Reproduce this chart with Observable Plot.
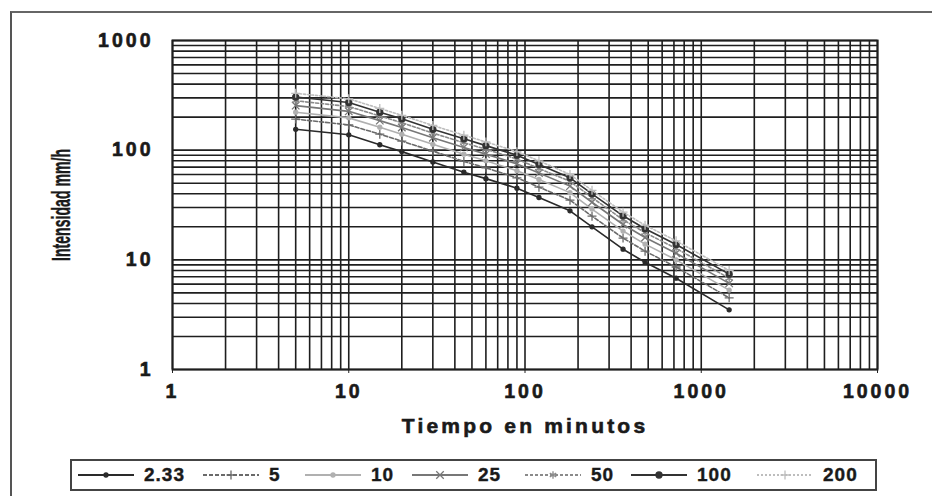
<!DOCTYPE html>
<html>
<head>
<meta charset="utf-8">
<script src="https://cdn.jsdelivr.net/npm/d3@7"></script>
<script src="https://cdn.jsdelivr.net/npm/@observablehq/plot@0.6"></script>
<style>
  html, body { margin: 0; padding: 0; background: #fff; }
  #wrap { position: relative; width: 932px; height: 496px; overflow: hidden; }
  #frame { position: absolute; left: 10px; top: 11px; width: 1000px; height: 600px;
           border-left: 2px solid #555; border-top: 2px solid #666; pointer-events: none; }
  #chart svg text { font-family: "Liberation Sans", Arial, sans-serif; font-weight: bold;
                    font-size: 19.5px; letter-spacing: 3px; fill: #1a1a1a;
                    stroke: #1a1a1a; stroke-width: 0.6px; paint-order: stroke; }
  #legend { position: absolute; left: 70px; top: 459px; width: 807px; height: 32px; box-sizing: border-box;
            border: 2px solid #444; font-family: "Liberation Sans", Arial, sans-serif; font-weight: bold;
            font-size: 19px; letter-spacing: 1px; color: #1a1a1a; -webkit-text-stroke: 0.4px #1a1a1a; }
  #legend .item { position: absolute; top: 0; height: 28px; display: flex; align-items: center; }
  #legend .item span { margin-left: 9px; }
</style>
</head>
<body>
<div id="wrap">
  <div id="chart"></div>
  <div id="legend"></div>
  <div id="frame"></div>
</div>
<script>
// ---- data ----
const durations = [5, 10, 15, 20, 30, 45, 60, 90, 120, 180, 240, 360, 480, 720, 1440];
const seriesNames = ["2.33", "5", "10", "25", "50", "100", "200"];
const s233 = [155, 138, 112, 97, 78, 63, 55, 45, 37, 28, 20, 12.5, 9.5, 6.8, 3.5];
const s5   = [192, 170, 140, 121, 98, 79, 69, 56, 46, 35, 25, 15.8, 12, 8.6, 4.5];
const s10  = [222, 197, 162, 140, 113, 92, 80, 65, 54, 41, 29, 18.3, 13.9, 10, 5.3];
const s25  = [255, 226, 186, 161, 130, 106, 92, 75, 62, 47, 33.5, 21, 16, 11.5, 6.1];
const s50  = [282, 250, 205, 178, 143, 117, 102, 83, 68, 52, 37, 23.2, 17.7, 12.7, 6.8];
const s100 = [305, 272, 222, 193, 155, 127, 110, 90, 74, 56, 40, 25.2, 19.2, 13.8, 7.4];
const s200 = [330, 294, 240, 208, 168, 137, 119, 97, 80, 60, 43, 27.2, 20.7, 14.9, 8.0];
const seriesValues = [s233, s5, s10, s25, s50, s100, s200];
const xTicks = [1, 10, 100, 1000, 10000];
const yTicks = [1, 10, 100, 1000];

// ---- styles (not data) ----
const styles = {
  "2.33": {stroke: "#2a2a2a", dash: null, symbol: "circle", r: 2, fill: "#2a2a2a", legendLeft: 5},
  "5":    {stroke: "#6a6a6a", dash: "4,2", symbol: "plus", r: 3, fill: "none", legendLeft: 130},
  "10":   {stroke: "#b0b0b0", dash: null, symbol: "circle", r: 2, fill: "#b0b0b0", legendLeft: 232},
  "25":   {stroke: "#777777", dash: null, symbol: "times", r: 3.5, fill: "none", legendLeft: 339},
  "50":   {stroke: "#8a8a8a", dash: "3,2", symbol: "asterisk", r: 3.5, fill: "none", legendLeft: 452},
  "100":  {stroke: "#333333", dash: null, symbol: "circle", r: 3, fill: "#333333", legendLeft: 558},
  "200":  {stroke: "#bdbdbd", dash: "2,2", symbol: "plus", r: 3, fill: "none", legendLeft: 684}
};

const rows = seriesNames.flatMap((name, i) =>
  durations.map((t, j) => ({series: name, t, v: seriesValues[i][j]})));

const gridX = d3.range(0, 4).flatMap(k => d3.range(1, 10).map(m => m * 10 ** k)).concat([10000]);
const gridY = d3.range(0, 3).flatMap(k => d3.range(1, 10).map(m => m * 10 ** k)).concat([1000]);

const marks = [
  Plot.ruleX(gridX, {stroke: "#1e1e1e", strokeWidth: 1.6}),
  Plot.ruleY(gridY, {stroke: "#1e1e1e", strokeWidth: 1.6}),
  Plot.frame({stroke: "#1e1e1e", strokeWidth: 2})
];
for (const name of seriesNames) {
  const st = styles[name];
  const data = rows.filter(d => d.series === name);
  marks.push(Plot.line(data, {x: "t", y: "v", stroke: st.stroke, strokeWidth: 1.6, strokeDasharray: st.dash}));
  marks.push(Plot.dot(data, {x: "t", y: "v", symbol: st.symbol, r: st.r, stroke: st.stroke,
                              fill: st.fill, strokeWidth: 1.3}));
}

const chart = Plot.plot({
  width: 932,
  height: 452,
  marginLeft: 172,
  marginRight: 55,
  marginTop: 40,
  marginBottom: 83,
  style: {background: "transparent", color: "#222"},
  x: {type: "log", domain: [1, 10000], ticks: xTicks, tickFormat: d3.format("d"),
      label: "Tiempo en minutos", labelAnchor: "center", labelOffset: 63, tickSize: 4, tickPadding: 11, labelArrow: "none"},
  y: {type: "log", domain: [1, 1000], ticks: yTicks, tickFormat: d3.format("d"),
      label: "Intensidad mm/h", labelAnchor: "center", labelOffset: 120, tickSize: 0, tickPadding: 19, labelArrow: "none"},
  marks
});
document.getElementById("chart").appendChild(chart);

// style axis labels
chart.querySelectorAll("g[aria-label='x-axis label'] text").forEach(e => {
  e.style.fontSize = "21px";
  e.style.letterSpacing = "3.2px";
});
chart.querySelectorAll("g[aria-label='y-axis label'] text").forEach(e => {
  e.style.fontSize = "25px";
  e.style.letterSpacing = "0px";
  e.style.strokeWidth = "0.4px";
  e.setAttribute("textLength", "112");
  e.setAttribute("lengthAdjust", "spacingAndGlyphs");
});

// legend
const legend = document.getElementById("legend");
for (const name of seriesNames) {
  const st = styles[name];
  const item = document.createElement("div");
  item.className = "item";
  item.style.left = st.legendLeft + "px";
  const sw = d3.create("svg").attr("width", 58).attr("height", 14);
  sw.append("line").attr("x1", 1).attr("x2", 57).attr("y1", 7).attr("y2", 7)
    .attr("stroke", st.stroke).attr("stroke-width", 1.8).attr("stroke-dasharray", st.dash);
  const sym = d3.symbol().type({
    circle: d3.symbolCircle, plus: d3.symbolPlus, times: d3.symbolTimes, asterisk: d3.symbolAsterisk
  }[st.symbol]).size(Math.PI * st.r * st.r)();
  sw.append("path").attr("d", sym).attr("transform", "translate(29,7)")
    .attr("stroke", st.stroke).attr("fill", st.fill).attr("stroke-width", 1.3);
  item.appendChild(sw.node());
  const label = document.createElement("span");
  label.textContent = name;
  item.appendChild(label);
  legend.appendChild(item);
}
</script>
</body>
</html>
